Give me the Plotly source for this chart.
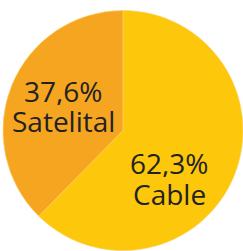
import plotly.graph_objects as go

labels = ["Cable", "Satelital"]
values = [62.3, 37.6]
colors = ["#FDC70C", "#F6A521"]

W, H = 243, 251

fig = go.Figure(go.Pie(
    labels=labels, values=values, sort=False, direction="clockwise", rotation=0,
    marker=dict(colors=colors, line=dict(color="#FBD36A", width=0.6)),
    textinfo="none", hoverinfo="label+percent",
    domain=dict(x=[0.012, 1], y=[0, 0.96]),
    showlegend=False,
))

def fmt(v):
    return f"{v:.1f}".replace(".", ",") + "%"

# label positions in pixels (x center, y center of each line, from top)
pos = {"Satelital": (63, 90, 120), "Cable": (169, 162, 193)}
font = dict(family="Open Sans", size=28, color="#222222")
anns = []
for lab, v in zip(labels, values):
    x, y1, y2 = pos[lab]
    for txt, y in ((fmt(v), y1), (lab, y2)):
        anns.append(dict(text=txt, x=x / W, y=1 - y / H, xref="paper", yref="paper",
                         xanchor="center", yanchor="middle", showarrow=False,
                         height=29, valign="middle", font=font))

fig.update_layout(width=W, height=H, margin=dict(l=0, r=0, t=0, b=0),
                  paper_bgcolor="white", plot_bgcolor="white", annotations=anns)
fig.write_html("out.html", config={"displayModeBar": False},
               post_script="document.body.style.margin='0';")
